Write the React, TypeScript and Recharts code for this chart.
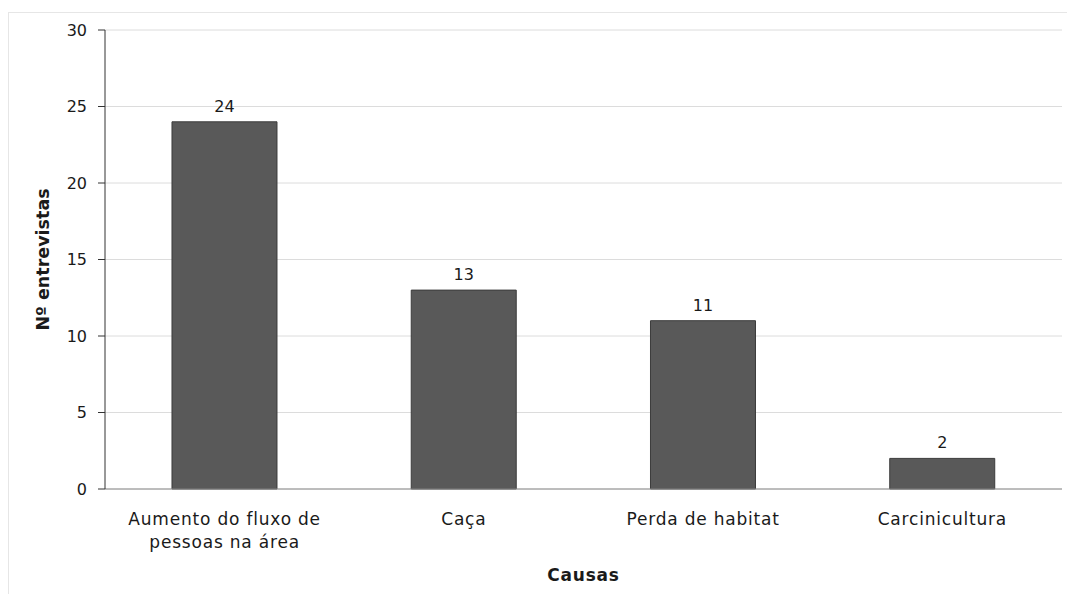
import React from 'react'
import {
  BarChart,
  Bar,
  XAxis,
  YAxis,
  CartesianGrid,
  LabelList,
  Text
} from 'recharts'

const causas = [
  'Aumento do fluxo de pessoas na área',
  'Caça',
  'Perda de habitat',
  'Carcinicultura'
]
const entrevistas = [24, 13, 11, 2]
const yTicks = [0, 5, 10, 15, 20, 25, 30]
const boundaryTicks = [0, 1, 2, 3, 4]

const data = causas.map((c, i) => ({ causa: c, n: entrevistas[i] }))

const font = '"DejaVu Sans", Verdana, sans-serif'

const CategoryTick = (props: any) => {
  const { x, y, payload } = props
  return (
    <Text
      x={x}
      y={y + 16}
      width={225}
      textAnchor="middle"
      verticalAnchor="start"
      lineHeight={23}
      style={{ fontSize: 17, fill: '#1a1a1a', fontFamily: font, letterSpacing: 0.8 }}
    >
      {payload.value}
    </Text>
  )
}

export default function App() {
  return (
    <div style={{ position: 'absolute', left: 0, top: 0, width: 1067, height: 594, background: '#fff', overflow: 'hidden' }}>
      <div
        style={{
          position: 'absolute',
          left: 8,
          top: 12,
          width: 1070,
          height: 600,
          border: '1px solid #e6e6e6'
        }}
      />
      <BarChart
        width={1067}
        height={594}
        data={data}
        margin={{ top: 30, right: 5, bottom: 35, left: 45 }}
        barCategoryGap="28%"
        style={{ fontFamily: font }}
      >
        <CartesianGrid vertical={false} stroke="#dcdcdc" />
        <XAxis
          dataKey="causa"
          height={70}
          axisLine={{ stroke: '#8c8c8c' }}
          tickLine={false}
          tick={<CategoryTick />}
          interval={0}
          label={{
            value: 'Causas',
            position: 'insideBottom',
            offset: -22,
            style: { fontSize: 17, fontWeight: 700, fill: '#1a1a1a', fontFamily: font, letterSpacing: 0.8 }
          }}
        />
        <XAxis
          xAxisId="b"
          type="number"
          domain={[0, 4]}
          ticks={boundaryTicks}
          height={0}
          axisLine={false}
          tickLine={{ stroke: '#8c8c8c' }}
          tickSize={6}
          tick={false}
        />
        <YAxis
          width={60}
          domain={[0, 30]}
          ticks={yTicks}
          axisLine={{ stroke: '#333' }}
          tickLine={{ stroke: '#333' }}
          tickSize={7}
          tick={{ fontSize: 16, fill: '#1a1a1a', fontFamily: font }}
          tickMargin={11}
          label={{
            value: 'Nº entrevistas',
            angle: -90,
            position: 'insideLeft',
            offset: -2,
            style: { fontSize: 17.5, fontWeight: 700, fill: '#1a1a1a', fontFamily: font, textAnchor: 'middle' }
          }}
        />
        <Bar dataKey="n" fill="#595959" stroke="#3c3c3c" strokeWidth={1} isAnimationActive={false}>
          <LabelList
            dataKey="n"
            position="top"
            offset={10}
            style={{ fontSize: 16, fill: '#1a1a1a', fontFamily: font }}
          />
        </Bar>
      </BarChart>
    </div>
  )
}
